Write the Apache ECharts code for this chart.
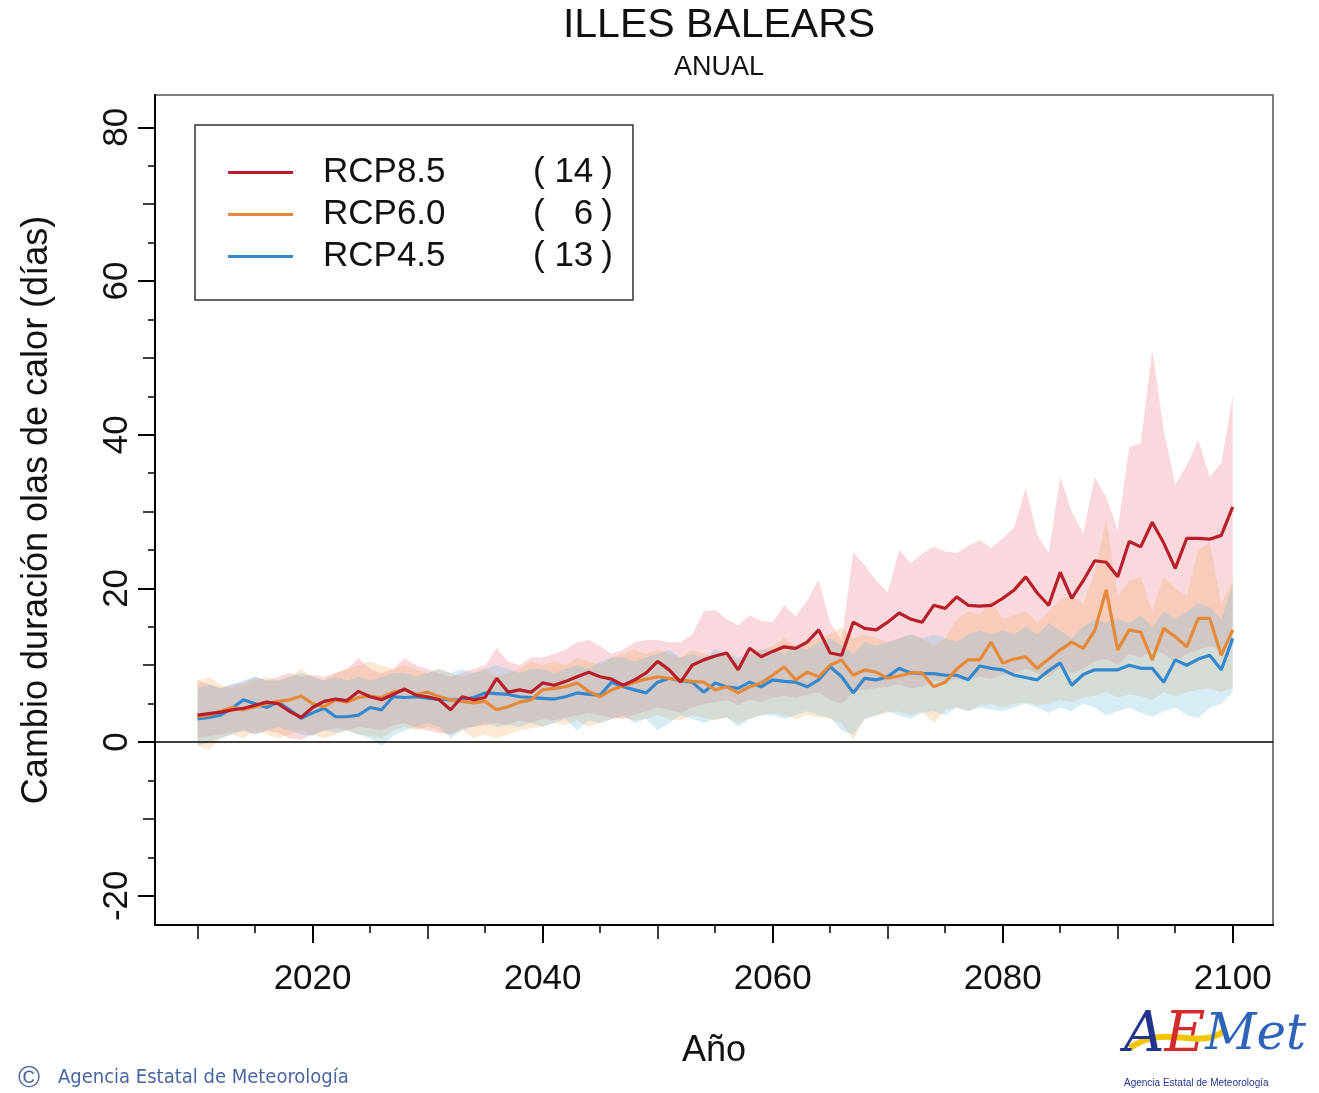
<!DOCTYPE html>
<html>
<head>
<meta charset="utf-8">
<script src="https://cdn.jsdelivr.net/npm/echarts@6/dist/echarts.min.js"></script>
<style>
html,body{margin:0;padding:0;background:#fff;}
#chart{width:1319px;height:1093px;}
</style>
</head>
<body>
<div id="chart"></div>
<script>
// ---- data ----
const firstYear = 2010, lastYear = 2100;
const years = [];
for (let y = firstYear; y <= lastYear; y++) years.push(y);

const seriesNames = ['RCP8.5', 'RCP6.0', 'RCP4.5'];
const modelCounts = [14, 6, 13];

const rcp85Mean = [
  3.5,3.7,3.9,4.2,4.4,4.8,5.2,5.0,4.0,3.2,
  4.5,5.3,5.6,5.4,6.6,5.9,5.5,6.2,6.9,6.1,
  5.9,5.5,4.2,5.9,5.5,5.8,8.3,6.5,6.8,6.5,
  7.7,7.4,7.9,8.5,9.1,8.5,8.2,7.4,8.1,9.0,
  10.5,9.4,7.8,10.0,10.7,11.2,11.6,9.4,12.2,11.1,
  11.8,12.4,12.2,13.0,14.6,11.6,11.3,15.6,14.8,14.6,
  15.6,16.8,16.0,15.6,17.8,17.4,18.9,17.8,17.7,17.8,
  18.7,19.8,21.5,19.4,17.8,22.1,18.7,21.0,23.6,23.4,
  21.5,26.1,25.4,28.6,25.9,22.6,26.5,26.5,26.4,26.9,
  30.6
];
const rcp85Upper = [
  8.0,7.5,7.0,7.5,7.8,8.5,8.0,8.5,9.0,8.5,
  8.8,8.5,9.0,9.5,10.9,9.5,9.0,9.5,10.9,10.0,
  9.5,9.0,8.5,9.0,9.5,10.0,12.2,10.5,10.0,11.0,
  11.0,11.5,12.0,13.0,13.3,12.5,11.5,12.0,13.0,13.3,
  13.3,13.0,13.0,14.0,17.0,17.2,16.0,15.2,16.5,15.8,
  15.6,17.8,16.3,18.5,21.1,15.5,13.3,24.7,23.0,21.0,
  19.5,25.0,23.3,24.5,25.4,24.8,24.6,25.5,26.3,25.3,
  26.5,28.0,33.1,27.0,24.6,34.5,30.0,27.2,34.5,31.9,
  27.6,38.4,38.9,51.0,40.6,33.5,36.0,39.3,34.5,36.3,
  45.0
];
const rcp85Lower = [
  0.5,0.8,1.0,1.2,1.5,1.0,1.5,1.2,0.5,0.3,
  1.0,1.5,1.8,1.5,2.0,1.8,1.5,2.2,2.5,1.8,
  1.5,1.2,1.0,1.8,2.0,2.2,2.5,2.3,2.8,2.5,
  3.0,2.8,3.2,3.5,3.8,3.5,3.2,3.0,3.6,4.0,
  4.5,4.2,3.8,4.5,5.0,5.2,5.5,4.8,5.5,5.2,
  5.8,6.0,5.8,6.2,6.5,5.5,5.0,6.5,6.8,7.0,
  7.2,7.5,7.0,7.2,8.0,7.8,8.2,8.0,8.5,8.2,
  8.8,9.0,9.5,9.0,8.5,9.8,9.0,9.5,10.5,10.8,
  10.0,11.5,11.0,12.0,11.5,10.5,11.5,12.0,12.5,12.0,
  14.0
];

const rcp60Mean = [
  3.3,3.5,4.0,4.5,4.2,4.6,5.0,5.3,5.5,6.0,
  5.0,4.6,5.5,5.2,5.8,6.0,5.8,6.5,6.8,6.2,
  6.5,5.9,5.5,5.3,5.1,5.3,4.2,4.6,5.2,5.5,
  6.8,7.0,7.2,7.7,6.6,5.9,6.8,7.3,7.8,8.2,
  8.5,8.3,8.1,7.9,7.8,6.8,7.2,6.4,7.2,7.7,
  8.7,9.8,8.1,9.1,8.5,10.0,10.7,8.7,9.4,9.1,
  8.3,8.6,9.0,9.0,7.2,7.8,9.5,10.7,10.7,13.0,
  10.3,10.8,11.1,9.6,10.8,12.0,13.0,12.2,14.5,19.8,
  12.0,14.6,14.3,10.7,14.8,13.7,12.4,16.1,16.1,11.3,
  14.6
];
const rcp60Upper = [
  8.0,8.5,7.5,7.0,7.5,8.0,8.5,8.0,8.5,9.5,
  8.5,8.0,9.0,9.5,10.0,10.5,10.0,9.5,10.0,9.5,
  9.0,9.5,9.0,8.5,9.0,9.5,8.5,9.0,9.5,10.5,
  10.0,10.5,10.0,11.0,10.5,10.0,11.0,11.5,12.0,11.5,
  12.0,11.5,11.0,12.0,11.5,11.0,11.5,10.5,11.5,12.0,
  12.5,13.5,12.5,13.0,13.5,14.0,15.0,13.5,14.0,13.5,
  13.0,13.5,14.0,13.5,12.5,13.5,16.0,17.0,16.5,18.5,
  16.0,16.5,17.0,15.5,17.0,18.5,19.0,18.0,22.0,29.0,
  19.0,21.0,21.5,17.0,21.5,20.0,19.0,25.0,26.0,18.0,
  21.0
];
const rcp60Lower = [
  -0.5,-1.0,0.5,1.0,0.5,1.5,1.0,0.5,1.0,1.5,
  1.0,0.5,1.0,1.5,1.0,0.8,0.5,1.5,2.0,1.5,
  2.0,1.5,1.0,1.5,0.5,1.0,0.5,1.0,1.5,1.8,
  2.0,2.5,2.2,2.8,2.0,2.5,3.0,3.2,2.8,3.0,
  3.5,3.0,2.8,3.5,3.2,2.8,3.2,2.5,3.0,3.5,
  3.8,3.5,3.0,3.5,3.2,3.0,2.5,0.3,3.0,3.5,
  3.8,4.0,3.5,4.0,2.5,4.2,4.5,4.0,4.8,5.0,
  4.5,5.0,5.2,4.8,5.0,5.5,5.2,5.8,6.0,6.5,
  5.8,6.2,6.0,5.5,6.5,6.0,6.5,6.8,7.0,6.5,
  7.0
];

const rcp45Mean = [
  3.0,3.2,3.5,4.4,5.5,5.0,4.5,5.2,4.2,3.1,
  3.8,4.4,3.3,3.3,3.5,4.5,4.2,5.9,5.8,5.9,
  5.7,5.6,5.5,5.5,5.8,6.4,6.3,6.2,5.9,5.8,
  5.7,5.6,5.9,6.4,6.2,6.1,7.8,7.2,6.8,6.4,
  7.8,8.3,8.0,7.8,6.5,7.7,7.2,7.0,7.8,7.2,
  8.1,7.9,7.8,7.2,8.1,9.8,8.5,6.4,8.3,8.1,
  8.5,9.6,9.0,8.9,8.9,8.7,8.7,8.1,9.9,9.6,
  9.4,8.7,8.4,8.1,9.3,10.3,7.4,8.8,9.4,9.4,
  9.4,10.0,9.6,9.6,7.8,10.7,10.0,10.8,11.3,9.4,
  13.5
];
const rcp45Upper = [
  7.0,7.5,7.0,7.5,8.0,8.5,8.0,8.0,8.5,9.0,
  8.5,8.0,8.5,8.0,8.5,8.0,8.5,9.0,9.0,8.5,
  9.0,9.5,9.0,9.5,9.0,9.5,10.0,9.5,9.0,9.5,
  9.5,9.0,9.5,10.0,9.5,10.5,11.0,11.0,10.5,11.0,
  11.5,12.0,11.0,11.5,11.0,12.0,11.5,11.0,11.5,12.0,
  12.0,11.5,12.5,12.0,13.0,13.5,12.5,11.5,13.0,12.5,
  13.0,13.5,14.0,13.5,14.0,13.5,13.0,14.0,14.5,14.0,
  14.5,14.0,15.0,14.0,15.5,14.5,13.5,15.0,16.0,15.5,
  16.0,15.5,16.5,15.0,17.0,16.0,17.0,18.0,17.5,16.0,
  20.5
];
const rcp45Lower = [
  -0.5,0.0,0.5,1.0,1.5,1.0,1.5,2.0,1.5,1.0,
  0.8,1.5,1.2,1.5,1.0,0.5,-0.5,0.8,1.5,2.0,
  2.5,2.0,0.5,1.5,2.0,2.5,2.0,2.2,2.0,2.5,
  2.0,2.5,3.0,1.5,2.8,2.5,3.0,3.5,2.5,3.0,
  1.5,2.5,3.5,3.0,2.5,3.0,3.2,2.0,3.0,3.5,
  3.5,3.0,3.5,4.0,3.5,3.2,1.5,1.0,3.0,3.5,
  4.0,3.5,3.0,3.8,4.0,3.5,4.5,4.0,4.5,4.2,
  4.0,4.5,5.0,4.5,3.8,4.5,4.0,5.0,4.5,3.5,
  4.0,4.5,3.8,3.3,4.0,4.5,3.5,3.1,4.5,5.0,
  6.5
];

// tick values
const xLabelTicks = [2020, 2040, 2060, 2080, 2100];
const xMidTicks = [2010, 2030, 2050, 2070, 2090];
const xMinorTicks = [2015, 2025, 2035, 2045, 2055, 2065, 2075, 2085, 2095];
const yLabelTicks = [-20, 0, 20, 40, 60, 80];
const yMidTicks = [-10, 10, 30, 50, 70];
const yMinorTicks = [-15, -5, 5, 15, 25, 35, 45, 55, 65, 75];

// ---- styles ----
const FONT = 'Liberation Sans';
const lineColors = ['#b81f2b', '#e48a3a', '#3388cf'];
const bandColors = ['rgba(235,125,145,0.30)', 'rgba(245,170,90,0.26)', 'rgba(110,185,220,0.28)'];
const X_MIN = 2006.3, X_MAX = 2103.5, Y_MIN = -23.8, Y_MAX = 84.2;

const pairs = vals => years.map((y, i) => [y, vals[i]]);

const bandDefs = [
  [rcp85Upper, rcp85Lower], [rcp60Upper, rcp60Lower], [rcp45Upper, rcp45Lower]
];
const meanDefs = [rcp85Mean, rcp60Mean, rcp45Mean];

const series = [];
bandDefs.forEach(([up, lo], k) => {
  series.push({
    name: 'band-' + k, type: 'custom', silent: true, z: 1,
    data: years.map((y, i) => [y, up[i], lo[i]]),
    encode: { x: 0, y: [1, 2] },
    renderItem: (params, api) => {
      if (params.dataIndex !== 0) return null;
      const pts = [];
      for (let i = 0; i < years.length; i++) pts.push(api.coord([years[i], up[i]]));
      for (let i = years.length - 1; i >= 0; i--) pts.push(api.coord([years[i], lo[i]]));
      return { type: 'polygon', shape: { points: pts }, style: { fill: bandColors[k], stroke: null } };
    }
  });
});
[2, 1, 0].forEach(k => {
  series.push({
    name: seriesNames[k], type: 'line', data: pairs(meanDefs[k]),
    showSymbol: false, symbol: 'none', silent: true,
    lineStyle: { color: lineColors[k], width: 3.2 }, itemStyle: { color: lineColors[k] }, z: 5,
    markLine: k === 0 ? {
      silent: true, symbol: 'none', label: { show: false },
      lineStyle: { color: '#000', width: 1.5, type: 'solid' },
      data: [{ yAxis: 0 }]
    } : undefined
  });
});

function xAx(ticks, len, width, labels, showLine) {
  return {
    type: 'value', min: X_MIN, max: X_MAX, position: 'bottom',
    axisLine: { show: showLine, onZero: false, lineStyle: { color: '#000', width: 2 } },
    axisTick: { show: true, customValues: ticks, length: len, lineStyle: { color: '#000', width: width } },
    axisLabel: labels ? { show: true, customValues: ticks, formatter: v => String(v), fontFamily: FONT, fontSize: 35, color: '#111', margin: 37 } : { show: false },
    splitLine: { show: false },
    name: labels ? 'Año' : '', nameLocation: 'middle', nameGap: 108,
    nameTextStyle: { fontFamily: FONT, fontSize: 36, color: '#111' }
  };
}
function yAx(ticks, len, width, labels, showLine) {
  return {
    type: 'value', min: Y_MIN, max: Y_MAX, position: 'left',
    axisLine: { show: showLine, onZero: false, lineStyle: { color: '#000', width: 2 } },
    axisTick: { show: true, customValues: ticks, length: len, lineStyle: { color: '#000', width: width } },
    axisLabel: labels ? { show: true, customValues: ticks, formatter: v => String(v), rotate: 90, fontFamily: FONT, fontSize: 35, color: '#111', margin: 20 } : { show: false },
    splitLine: { show: false },
    name: labels ? 'Cambio duración olas de calor (días)' : '', nameLocation: 'middle', nameGap: 100, nameRotate: 90,
    nameTextStyle: { fontFamily: FONT, fontSize: 36, color: '#111' }
  };
}

const chart = echarts.init(document.getElementById('chart'), null, { renderer: 'canvas' });
chart.setOption({
  backgroundColor: '#fff',
  animation: false,
  title: {
    text: 'ILLES BALEARS', subtext: 'ANUAL', left: 714, top: 0, textAlign: 'center', itemGap: 8,
    textStyle: { fontFamily: FONT, fontSize: 41, fontWeight: 'normal', color: '#111' },
    subtextStyle: { fontFamily: FONT, fontSize: 27, color: '#111' }
  },
  grid: {
    left: 155, top: 95, width: 1118, height: 830, show: true,
    borderColor: '#555', borderWidth: 1.5, backgroundColor: 'transparent'
  },
  legend: {
    data: seriesNames, left: 195, top: 125, orient: 'vertical',
    padding: [30, 20, 26, 33], itemGap: 7, itemWidth: 65, itemHeight: 3, icon: 'rect',
    borderColor: '#333', borderWidth: 1.5, backgroundColor: '#fff',
    selectedMode: false,
    formatter: name => {
      const c = modelCounts[seriesNames.indexOf(name)];
      const txt = c < 10 ? '  ' + c : String(c);
      return '{n|' + name + '}{p|( }{v|' + txt + '}{q|)}';
    },
    textStyle: {
      fontFamily: FONT, fontSize: 35, color: '#111',
      rich: {
        n: { fontFamily: FONT, fontSize: 35, color: '#111', width: 210, padding: [0, 0, 0, 25] },
        p: { fontFamily: FONT, fontSize: 35, color: '#111' },
        v: { fontFamily: FONT, fontSize: 35, color: '#111' },
        q: { fontFamily: FONT, fontSize: 35, color: '#111', padding: [0, 0, 0, 8] }
      }
    }
  },
  xAxis: [
    xAx(xLabelTicks, 18, 2, true, true),
    xAx(xMidTicks, 14, 1.5, false, false),
    xAx(xMinorTicks, 8, 1.5, false, false)
  ],
  yAxis: [
    yAx(yLabelTicks, 17, 2, true, true),
    yAx(yMidTicks, 12, 1.5, false, false),
    yAx(yMinorTicks, 7, 1.5, false, false)
  ],
  series: series,
  graphic: [
    { type: 'text', left: 18, top: 1064, style: { text: '©', fontFamily: FONT, fontSize: 30, fill: '#4a66a0' } },
    { type: 'text', left: 58, top: 1068, style: { text: 'Agencia Estatal de Meteorología', fontFamily: 'DejaVu Sans Condensed', fontSize: 20, fill: '#4a66a0' } },
    { type: 'bezierCurve', shape: { x1: 1130, y1: 1048, x2: 1225, y2: 1030, cpx1: 1165, cpy1: 1022, cpx2: 1200, cpy2: 1052 },
      style: { stroke: '#f2c500', lineWidth: 6, fill: null } },
    { type: 'text', left: 1124, top: 1008, style: {
        text: '{a|A}{e|E}{m|Met}',
        rich: {
          a: { fontFamily: 'DejaVu Serif', fontStyle: 'italic', fontSize: 56, fill: '#23338f' },
          e: { fontFamily: 'DejaVu Serif', fontStyle: 'italic', fontSize: 56, fill: '#d32a2a' },
          m: { fontFamily: 'DejaVu Serif', fontStyle: 'italic', fontSize: 50, fill: '#2d63b8' }
        } } },
    { type: 'text', left: 1124, top: 1078, style: { text: 'Agencia Estatal de Meteorología', fontFamily: FONT, fontSize: 10, fill: '#23338f' } }
  ]
});
</script>
</body>
</html>
